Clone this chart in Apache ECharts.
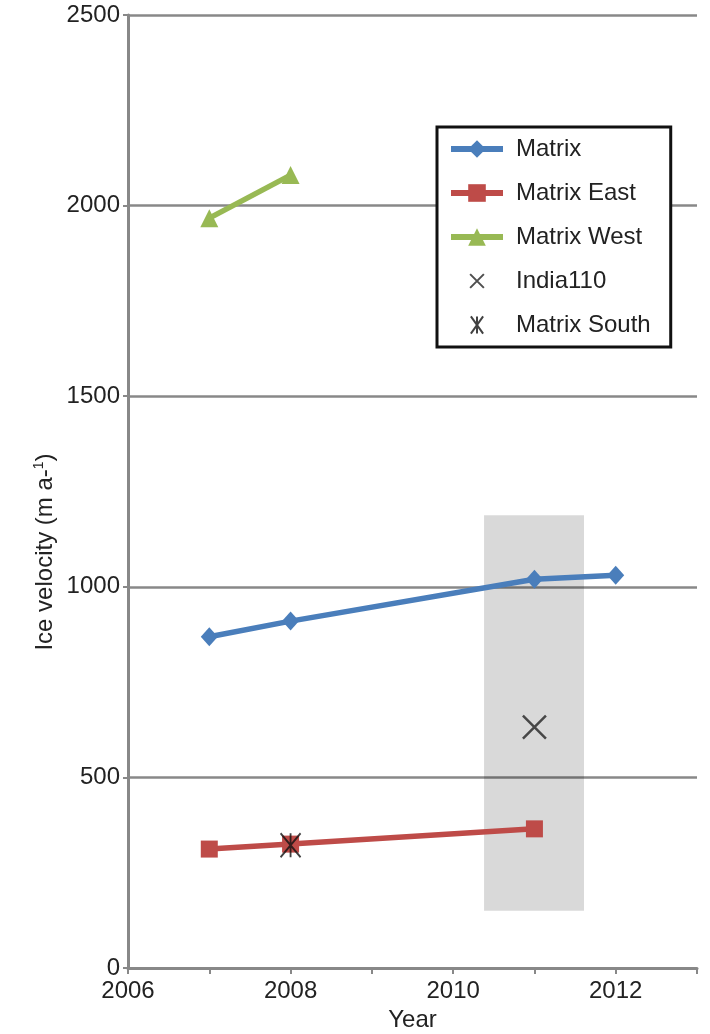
<!DOCTYPE html>
<html>
<head>
<meta charset="utf-8">
<script src="https://cdn.jsdelivr.net/npm/echarts@6/dist/echarts.min.js"></script>
<style>html,body{margin:0;padding:0;background:#fff}#c{width:710px;height:1034px}</style>
</head>
<body>
<div id="c"></div>
<script>
const years = [2007, 2008, 2011, 2012];
const matrix = [869, 910, 1020, 1030];
const eastYears = [2007, 2008, 2011];
const matrixEast = [312, 325, 365];
const westYears = [2007, 2008];
const matrixWest = [1967, 2080];
const india110 = [[2011, 632]];
const matrixSouth = [[2008, 322]];
const boxX = [2010.38, 2011.61];
const boxY = [150, 1188];
const xTicks = [2006, 2008, 2010, 2012];

const font = "'Liberation Sans', Arial, sans-serif";
const chart = echarts.init(document.getElementById('c'));
const pair = (xs, ys) => xs.map((x, i) => [x, ys[i]]);
const crossPath = 'path://M0,0L10,10M10,0L0,10';
const starPath = 'path://M0,0L10,14M10,0L0,14M5,0L5,14';

chart.setOption({
  animation: false,
  backgroundColor: '#fff',
  textStyle: { fontFamily: font, color: '#222' },
  grid: { left: 128, right: 13, top: 15, bottom: 66, containLabel: false, outerBoundsMode: 'none' },
  graphic: [{
    type: 'text', x: 45, y: 552, rotation: Math.PI / 2,
    style: {
      text: 'Ice velocity (m a-{sup|1})',
      font: '24px ' + font, fill: '#222',
      align: 'center', verticalAlign: 'middle',
      rich: { sup: { fontSize: 14, fill: '#222', fontFamily: font, padding: [0, 0, 12, 0] } }
    }
  }],
  xAxis: {
    type: 'value', min: 2006, max: 2013, interval: 1,
    name: 'Year', nameLocation: 'middle', nameGap: 40,
    nameTextStyle: { fontSize: 24, color: '#222', fontFamily: font },
    axisLine: { lineStyle: { color: '#888', width: 3 } },
    axisTick: { show: true, length: 6, lineStyle: { color: '#888', width: 2 } },
    axisLabel: { fontSize: 24, color: '#222', margin: 11, fontFamily: font,
      formatter: v => xTicks.indexOf(v) >= 0 ? String(v) : '' },
    splitLine: { show: false }
  },
  yAxis: {
    type: 'value', min: 0, max: 2500, interval: 500,
    axisLine: { show: true, lineStyle: { color: '#888', width: 3 } },
    axisTick: { show: true, length: 5, lineStyle: { color: '#888', width: 2 } },
    axisLabel: { fontSize: 24, color: '#222', margin: 8, fontFamily: font,
      formatter: v => String(v) },
    splitLine: { show: true, lineStyle: { color: '#888', width: 2.5 } }
  },
  legend: {
    orient: 'vertical', left: 437, top: 127,
    backgroundColor: '#fff', borderColor: '#111', borderWidth: 3,
    padding: [10, 20, 10, 11],
    itemWidth: 52, itemHeight: 22, itemGap: 20,
    lineStyle: { width: 6 },
    textStyle: { fontSize: 24, color: '#222', fontFamily: font, padding: [0, 0, 0, 8] },
    data: [
      'Matrix', 'Matrix East', 'Matrix West',
      { name: 'India110', icon: 'path://M-3,-3M0,0L10,10M10,0L0,10M13,13' },
      { name: 'Matrix South', icon: 'path://M-3,-2M0,0L10,14M10,0L0,14M5,0L5,14M13,16' }
    ]
  },
  series: [
    {
      name: 'Matrix', type: 'line', data: pair(years, matrix),
      symbol: 'diamond', symbolSize: [17, 19],
      lineStyle: { color: '#4a7ebb', width: 5.5 },
      itemStyle: { color: '#4a7ebb' }, z: 3,
      markArea: {
        silent: true,
        itemStyle: { color: 'rgba(0,0,0,0.15)' },
        data: [[{ coord: [boxX[0], boxY[0]] }, { coord: [boxX[1], boxY[1]] }]]
      }
    },
    {
      name: 'Matrix East', type: 'line', data: pair(eastYears, matrixEast),
      symbol: 'rect', symbolSize: 17,
      lineStyle: { color: '#be4b48', width: 5.5 },
      itemStyle: { color: '#be4b48' }, z: 3
    },
    {
      name: 'Matrix West', type: 'line', data: pair(westYears, matrixWest),
      symbol: 'triangle', symbolSize: 18,
      lineStyle: { color: '#98b954', width: 5.5 },
      itemStyle: { color: '#98b954' }, z: 3
    },
    {
      name: 'India110', type: 'scatter', data: india110,
      symbol: crossPath, symbolSize: 23,
      itemStyle: { color: 'rgba(0,0,0,0)', borderColor: '#222', borderWidth: 2.5 }, z: 4
    },
    {
      name: 'Matrix South', type: 'scatter', data: matrixSouth,
      symbol: starPath, symbolSize: [20, 24],
      itemStyle: { color: 'rgba(0,0,0,0)', borderColor: '#111', borderWidth: 2 }, z: 5
    }
  ]
});
</script>
</body>
</html>
